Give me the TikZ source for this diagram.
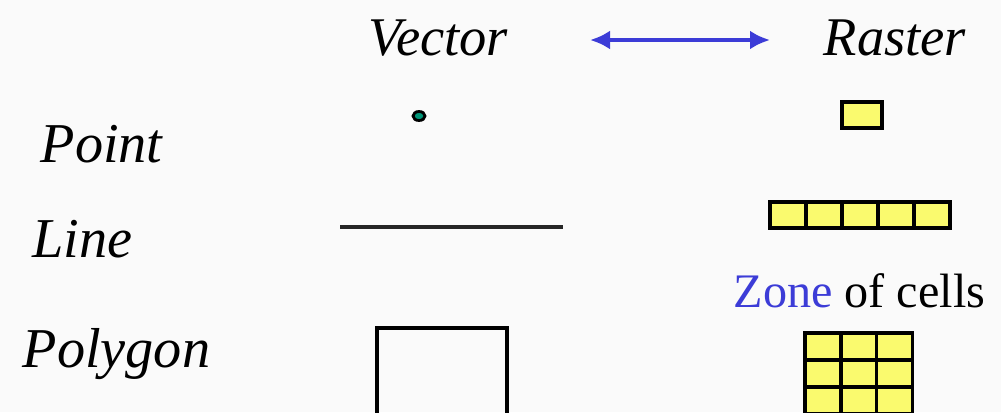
\documentclass[tikz,border=0pt]{standalone}
\usepackage{fontspec}
\setmainfont{Liberation Serif}
\usetikzlibrary{arrows.meta, positioning, shapes.geometric}
\definecolor{zoneblue}{RGB}{60,60,215}
\definecolor{cellyellow}{RGB}{250,250,110}
\definecolor{dotteal}{RGB}{0,150,120}

\begin{document}
\begin{tikzpicture}[
  x=0.01cm, y=-0.01cm,
  head/.style={font=\fontsize{15.5}{18}\selectfont\itshape, anchor=base west, inner sep=0},
  kind/.style={font=\fontsize{16}{19}\selectfont\itshape, anchor=base west, inner sep=0},
  cell/.style={draw, fill=cellyellow, line width=1pt, minimum width=0.36cm,
               minimum height=0.26cm, inner sep=0, outer sep=0},
  arrow/.style={{Latex[length=0.2cm, width=0.19cm]}-{Latex[length=0.2cm, width=0.19cm]},
                draw=zoneblue, line width=1.1pt}
]
\useasboundingbox (0,0) rectangle (1001,412);
\fill[black!2] (0,0) rectangle (1001,412);
\clip (0,0) rectangle (1001,412);

% headers
\node[head] (vec) at (368,55) {Vector};
\node[head] (ras) at (823,55) {Raster};
\coordinate (arrL) at (590,40);
\coordinate (arrR) at (770,40);
\draw[arrow] (arrL) -- (arrR);

% row labels
\node[kind] (pt) at (40,162) {Point};
\node[kind] (ln) at (32,257) {Line};
\node[kind] (pg) at (22,367) {Polygon};

% vector column
\node[ellipse, draw, fill=dotteal, minimum width=0.12cm, minimum height=0.09cm, inner sep=0,
      line width=0.8pt] (vpt) at (419,116) {};
\coordinate (lnA) at (340,227);
\coordinate (lnB) at (563,227);
\draw[line width=1pt, black!85] (lnA) -- (lnB);
\node[draw, line width=1.1pt, minimum width=1.3cm, minimum height=1.3cm, anchor=north west,
      inner sep=0] (vpg) at (375,326) {};

% raster column
\node[cell, minimum width=0.40cm] (rpt) at (862,115) {};
\foreach \i in {0,...,4}
  \node[cell] (rl\i) at (788+36*\i,215) {};
\node[anchor=base west, inner sep=0, font=\fontsize{13.7}{17}\selectfont] (zone) at (733,307)
  {\textcolor{zoneblue}{Zone} of cells};
\foreach \r in {0,1,2}
  \foreach \c in {0,1,2}
    \node[cell, minimum width=0.357cm, minimum height=0.27cm] (g\r\c) at (823+35.7*\c,346.5+27*\r) {};
\end{tikzpicture}
\end{document}
